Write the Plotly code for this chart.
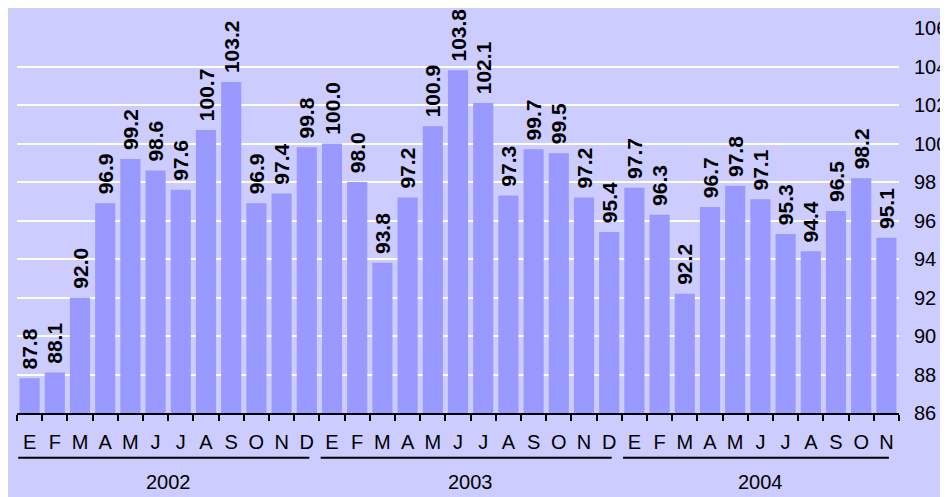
import plotly.graph_objects as go

months_2002 = ["E", "F", "M", "A", "M", "J", "J", "A", "S", "O", "N", "D"]
months_2003 = ["E", "F", "M", "A", "M", "J", "J", "A", "S", "O", "N", "D"]
months_2004 = ["E", "F", "M", "A", "M", "J", "J", "A", "S", "O", "N"]

values_2002 = [87.8, 88.1, 92.0, 96.9, 99.2, 98.6, 97.6, 100.7, 103.2, 96.9, 97.4, 99.8]
values_2003 = [100.0, 98.0, 93.8, 97.2, 100.9, 103.8, 102.1, 97.3, 99.7, 99.5, 97.2, 95.4]
values_2004 = [97.7, 96.3, 92.2, 96.7, 97.8, 97.1, 95.3, 94.4, 96.5, 98.2, 95.1]

years = ["2002", "2003", "2004"]
y_ticks = [86, 88, 90, 92, 94, 96, 98, 100, 102, 104, 106]

groups = [(years[0], months_2002, values_2002),
          (years[1], months_2003, values_2003),
          (years[2], months_2004, values_2004)]

cats, labels, vals, spans = [], [], [], []
for yr, ms, vs in groups:
    start = len(cats)
    for i, (m, v) in enumerate(zip(ms, vs)):
        cats.append(f"{yr}-{i:02d}-{m}")
        labels.append(m)
        vals.append(v)
    spans.append((yr, start, len(cats) - 1))

BG = "#ccccff"
BAR = "#9999ff"
FONT = "Liberation Sans, Arial, sans-serif"

fig = go.Figure()
fig.add_trace(go.Bar(
    x=cats, y=vals,
    marker=dict(color=BAR, line=dict(width=0)),
    texttemplate="\u00a0%{y:.1f}",
    textposition="outside",
    textangle=-90,
    constraintext="none",
    cliponaxis=False,
    textfont=dict(family=FONT, size=21, color="black", weight="bold"),
    hoverinfo="x+y",
))

W, H = 948, 497
L, R, T, B = 9, 57, 17, 92
ph = H - T - B
bottom = T + ph  # plot bottom in figure pixels

shapes = []
annotations = []
for yr, s, e in spans:
    ly = -(450 - bottom) / ph
    shapes.append(dict(type="line", xref="x", yref="paper",
                       x0=s - 0.45, x1=e + 0.1, y0=ly, y1=ly,
                       line=dict(color="black", width=2)))
    annotations.append(dict(x=(s + e) / 2, xref="x", yref="paper",
                            y=-(475 - bottom) / ph, yanchor="middle",
                            text=yr, showarrow=False,
                            font=dict(family=FONT, size=20, color="black")))

fig.update_layout(
    width=W, height=H,
    margin=dict(l=L, r=R, t=T, b=B),
    paper_bgcolor=BG, plot_bgcolor=BG,
    bargap=0.2,
    showlegend=False,
    shapes=shapes,
    annotations=annotations,
    xaxis=dict(
        type="category",
        tickmode="array", tickvals=cats, ticktext=labels,
        tickson="boundaries",
        ticks="outside", ticklen=6, tickwidth=1.5, tickcolor="black",
        showline=True, linecolor="black", linewidth=2,
        showgrid=False, zeroline=False,
        tickfont=dict(family=FONT, size=20, color="black"),
        ticklabelstandoff=10,
        tickangle=0,
    ),
    yaxis=dict(
        range=[86, 106], side="right",
        tickmode="array", tickvals=y_ticks,
        showgrid=True, gridcolor="white", gridwidth=1.5,
        zeroline=False, showline=False, ticks="",
        tickfont=dict(family=FONT, size=20, color="black"),
        ticklabelstandoff=14,
    ),
)

fig.write_html("out.html")
